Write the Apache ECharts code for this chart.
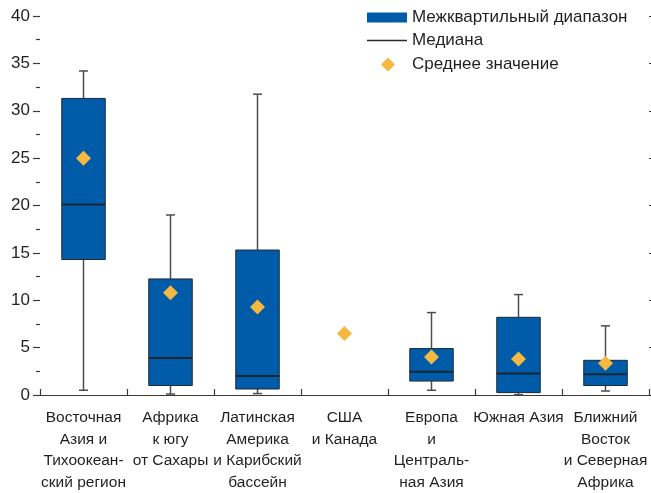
<!DOCTYPE html>
<html>
<head>
<meta charset="utf-8">
<script src="https://cdn.jsdelivr.net/npm/echarts@6/dist/echarts.min.js"></script>
<style>
  html, body { margin: 0; padding: 0; background: #fff; overflow: hidden; }
  #chart { width: 651px; height: 493px; }
</style>
</head>
<body>
<div id="chart"></div>
<script>
// Regions (category axis labels)
const categories = [
  'Восточная\nАзия и\nТихоокеан-\nский регион',
  'Африка\nк югу\nот Сахары',
  'Латинская\nАмерика\nи Карибский\nбассейн',
  'США\nи Канада',
  'Европа\nи\nЦентраль-\nная Азия',
  'Южная Азия',
  'Ближний\nВосток\nи Северная\nАфрика'
];

// Box-plot statistics per region (null = no distribution shown)
const lows    = [0.5, 0.1, 0.15, null, 0.5, 0.03, 0.42];
const q1s     = [14.3, 1.0, 0.63, null, 1.47, 0.25, 1.0];
const medians = [20.1, 3.9, 2.0, null, 2.45, 2.27, 2.2];
const q3s     = [31.3, 12.25, 15.3, null, 4.9, 8.2, 3.66];
const highs   = [34.2, 19.0, 31.75, null, 8.7, 10.6, 7.3];
const means   = [25.0, 10.8, 9.3, 6.5, 4.0, 3.8, 3.35];

// Y-axis ticks
const yMin = 0, yMax = 40, yStep = 5;

const FONT = "'Liberation Sans', Arial, sans-serif";
const TEXT = '#231f20';
const BOX_FILL = '#005BA8';
const MEAN_COLOR = '#F5B841';

const boxData = [];
const medianData = [];
categories.forEach((c, i) => {
  if (q1s[i] == null) return;
  boxData.push([i, lows[i], q1s[i], medians[i], q3s[i], highs[i]]);
  medianData.push([i, medians[i]]);
});

function renderBox(params, api) {
  const i = api.value(0);
  const lo = api.coord([i, api.value(1)]);
  const q1 = api.coord([i, api.value(2)]);
  const q3 = api.coord([i, api.value(4)]);
  const hi = api.coord([i, api.value(5)]);
  const band = api.size([1, 0])[0];
  const half = band * 0.25;
  const cap = 4.5;
  const x = lo[0];
  const wStyle = { stroke: '#4d4d4d', lineWidth: 1.5 };
  return {
    type: 'group',
    children: [
      { type: 'line', shape: { x1: x, y1: hi[1], x2: x, y2: q3[1] }, style: wStyle },
      { type: 'line', shape: { x1: x, y1: q1[1], x2: x, y2: lo[1] }, style: wStyle },
      { type: 'line', shape: { x1: x - cap, y1: hi[1], x2: x + cap, y2: hi[1] }, style: wStyle },
      { type: 'line', shape: { x1: x - cap, y1: lo[1], x2: x + cap, y2: lo[1] }, style: wStyle },
      {
        type: 'rect',
        shape: { x: x - half, y: q3[1], width: half * 2, height: q1[1] - q3[1] },
        style: { fill: BOX_FILL, stroke: '#1e2a36', lineWidth: 1 }
      }
    ]
  };
}

function renderMedian(params, api) {
  const i = api.value(0);
  const p = api.coord([i, api.value(1)]);
  const half = api.size([1, 0])[0] * 0.25;
  return {
    type: 'line',
    shape: { x1: p[0] - half, y1: p[1], x2: p[0] + half, y2: p[1] },
    style: { stroke: '#1b2430', lineWidth: 2 }
  };
}

const legendText = { fontFamily: FONT, fontSize: 17, color: TEXT };

const chart = echarts.init(document.getElementById('chart'), null, { renderer: 'canvas', width: 651, height: 493 });
chart.setOption({
  animation: false,
  backgroundColor: '#fff',
  grid: { left: 40, width: 609, top: 16, height: 382, containLabel: false },
  legend: [
    {
      data: ['Межквартильный диапазон'], icon: 'rect',
      left: 367, top: 9, itemWidth: 40, itemHeight: 10, padding: 0,
      textStyle: legendText, selectedMode: false
    },
    {
      data: ['Медиана'], icon: 'rect',
      left: 367, top: 32, itemWidth: 40, itemHeight: 1.5, padding: 0,
      textStyle: legendText, selectedMode: false
    },
    {
      data: ['Среднее значение'], icon: 'diamond',
      left: 381, top: 56, itemWidth: 14, itemHeight: 14, padding: 0,
      itemStyle: { opacity: 1 },
      textStyle: Object.assign({ padding: [0, 0, 0, 12] }, legendText), selectedMode: false
    }
  ],
  xAxis: {
    type: 'category',
    data: categories,
    boundaryGap: true,
    axisLine: { show: true, lineStyle: { color: '#3a3a3a', width: 1.2 } },
    axisTick: { show: true, inside: true, length: 6, lineStyle: { color: '#3a3a3a', width: 1.2 } },
    axisLabel: {
      interval: 0, margin: 12, fontFamily: FONT, fontSize: 15.5, color: TEXT,
      lineHeight: 21.5, align: 'center'
    },
    splitLine: { show: false }
  },
  yAxis: [
    {
      type: 'value', min: yMin, max: yMax, interval: yStep,
      axisLine: { show: false },
      axisTick: { show: true, length: 7, lineStyle: { color: '#3a3a3a', width: 1.2 } },
      minorTick: { show: true, splitNumber: 2, length: 4, lineStyle: { color: '#3a3a3a', width: 1.2 } },
      axisLabel: { margin: 10, fontFamily: FONT, fontSize: 17, color: TEXT },
      splitLine: { show: false }
    },
    {
      type: 'value', position: 'right', min: yMin, max: yMax, interval: yStep,
      axisLine: { show: false },
      axisTick: { show: true, length: 7, lineStyle: { color: '#3a3a3a', width: 1.2 } },
      axisLabel: { show: false },
      splitLine: { show: false }
    }
  ],
  series: [
    {
      name: 'Межквартильный диапазон',
      type: 'custom',
      renderItem: renderBox,
      itemStyle: { color: BOX_FILL },
      encode: { x: 0, y: [1, 2, 3, 4, 5] },
      data: boxData,
      z: 2
    },
    {
      name: 'Медиана',
      type: 'custom',
      renderItem: renderMedian,
      itemStyle: { color: '#2b2b2b' },
      encode: { x: 0, y: 1 },
      data: medianData,
      z: 3
    },
    {
      name: 'Среднее значение',
      type: 'scatter',
      symbol: 'diamond',
      symbolSize: [15, 15],
      itemStyle: { color: MEAN_COLOR, opacity: 1 },
      data: means.map((m, i) => [i, m]),
      z: 4
    }
  ]
});
</script>
</body>
</html>
